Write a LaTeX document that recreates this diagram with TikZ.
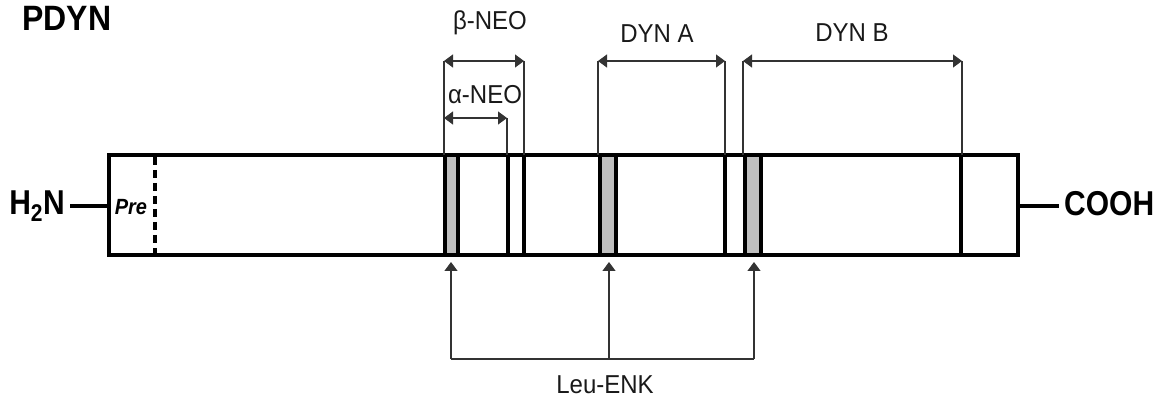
\documentclass[tikz,border=0pt]{standalone}
\usepackage{fontspec}
\setmainfont{Liberation Sans}
\usetikzlibrary{arrows.meta}
\begin{document}
\begin{tikzpicture}[x=1pt,y=-1pt,
  thickline/.style={line width=4pt,line cap=rect},
  bar/.style={line width=4pt},
  band/.style={line width=4pt,fill=black!25},
  thinline/.style={line width=1.2pt,draw=black!80},
  dim/.style={thinline,{Triangle[length=9pt,width=13pt]}-{Triangle[length=9pt,width=13pt]}},
  up/.style={thinline,-{Triangle[length=9pt,width=13pt]}},
  lbl/.style={font=\fontsize{24}{24}\selectfont,text=black!90,inner sep=0pt},
  big/.style={font=\fontsize{30}{30}\selectfont\bfseries,inner sep=0pt}]
\useasboundingbox (0,0) rectangle (1172,403);
% protein bar
\draw[thickline] (109,155) rectangle (1018,255);
\draw[line width=4pt,dash pattern=on 8pt off 5pt] (155,157) -- (155,253);
\node[inner sep=0pt,font=\fontsize{20}{20}\selectfont\bfseries\itshape] (pre) at (131,207) {\scalebox{1}[1.1]{Pre}};
% bands
\draw[band] (445,155) rectangle (458,255);
\draw[band] (600,155) rectangle (616,255);
\draw[band] (745,155) rectangle (761,255);
\draw[bar] (508,155) -- (508,255);
\draw[bar] (524,155) -- (524,255);
\draw[bar] (725,155) -- (725,255);
\draw[bar] (961,155) -- (961,255);
% termini
\node[big,anchor=east] (h2n) at (65,206) {\scalebox{1}[1.15]{H\textsubscript{2}N}};
\node[big,anchor=west] (cooh) at (1064,204) {\scalebox{1}[1.15]{COOH}};
\coordinate (pl) at (107,206);
\coordinate (pr) at (1020,206);
\coordinate (h2ne) at (70,206);
\coordinate (coohw) at (1059,206);
\draw[line width=4pt] (h2ne) -- (pl);
\draw[line width=4pt] (pr) -- (coohw);
\node[inner sep=0pt,font=\fontsize{32}{32}\selectfont\bfseries] (pdyn) at (67,18) {\scalebox{1}[1.1]{PDYN}};
% dimension coordinates
\coordinate (bnL) at (444,61); \coordinate (bnR) at (524,61);
\coordinate (anL) at (444,118); \coordinate (anR) at (507,118);
\coordinate (daL) at (598,61); \coordinate (daR) at (725,61);
\coordinate (dbL) at (743,61); \coordinate (dbR) at (962,61);
\draw[thinline] (bnL) -- (444,155);
\draw[thinline] (bnR) -- (524,155);
\draw[thinline] (anR) -- (507,155);
\draw[thinline] (daL) -- (598,155);
\draw[thinline] (daR) -- (725,155);
\draw[thinline] (dbL) -- (743,155);
\draw[thinline] (dbR) -- (962,155);
\draw[dim] (bnL) -- (bnR);
\draw[dim] (anL) -- (anR);
\draw[dim] (daL) -- (daR);
\draw[dim] (dbL) -- (dbR);
\node[lbl] (bneo) at (490,23) {\scalebox{1}[1.08]{β-NEO}};
\node[lbl] (aneo) at (485,95) {\scalebox{1}[1.08]{α-NEO}};
\node[lbl] (dyna) at (657,34) {\scalebox{1}[1.08]{DYN A}};
\node[lbl] (dynb) at (852,33) {\scalebox{1}[1.08]{DYN B}};
% Leu-ENK
\node[lbl] (leu) at (605,385) {\scalebox{1}[1.08]{Leu-ENK}};
\coordinate (e1) at (451,359); \coordinate (e2) at (609,359); \coordinate (e3) at (754,359);
\coordinate (t1) at (451,262); \coordinate (t2) at (609,262); \coordinate (t3) at (754,262);
\draw[thinline] (e1) -- (e3);
\draw[up] (e1) -- (t1);
\draw[up] (e2) -- (t2);
\draw[up] (e3) -- (t3);
\end{tikzpicture}
\end{document}
